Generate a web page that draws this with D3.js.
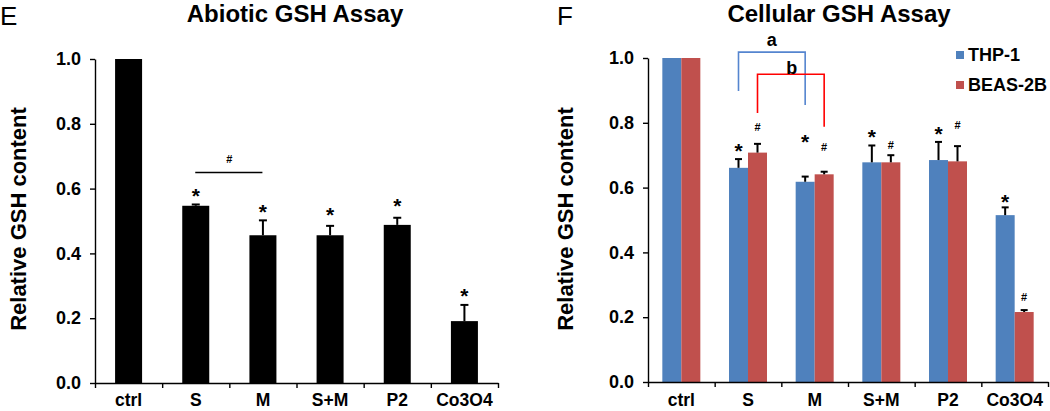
<!DOCTYPE html>
<html><head><meta charset="utf-8">
<script src="https://cdn.jsdelivr.net/npm/d3@7/dist/d3.min.js"></script>
<style>
body{margin:0;background:#fff;}
svg{display:block;font-family:"Liberation Sans",Arial,sans-serif;}
</style></head>
<body><svg id="c" width="1050" height="411"></svg>
<script>
const categories = ["ctrl","S","M","S+M","P2","Co3O4"];
const yTicks = [0,0.2,0.4,0.6,0.8,1.0];
// Panel E (abiotic)
const abioticMean = [1.0,0.547,0.456,0.456,0.488,0.191];
const abioticErr  = [0.0,0.004,0.046,0.029,0.022,0.050];
const abioticStar = [null,0.59,0.54,0.531,0.559,0.281];
// Panel F (cellular)
const seriesNames = ["THP-1","BEAS-2B"];
const thp1Mean  = [1.0,0.661,0.618,0.678,0.685,0.515];
const thp1Err   = [0.0,0.027,0.016,0.052,0.056,0.024];
const beasMean  = [1.0,0.708,0.641,0.678,0.681,0.216];
const beasErr   = [0.0,0.027,0.008,0.022,0.047,0.006];
const thp1Mark  = [null,0.725,0.753,0.768,0.778,0.568];
const beasMark  = [null,0.787,0.725,0.731,0.793,0.262];
const colors = ["#4F81BD","#C0504D"];

const svg = d3.select("#c");

function drawAxes(g, x, y, left, right, bottom, top){
  const ya = g.append("g").attr("transform",`translate(${left},0)`)
    .call(d3.axisLeft(y).tickValues(yTicks).tickFormat(d3.format(".1f")).tickSize(5).tickSizeOuter(0).tickPadding(9));
  ya.select(".domain").attr("stroke","#000").attr("stroke-width",1.4);
  ya.selectAll(".tick line").attr("stroke","#000").attr("stroke-width",1.4);
  ya.selectAll("text").attr("font-size",18).attr("font-weight","bold").attr("fill","#000");
  const xi = d3.scaleLinear().domain([0,categories.length]).range([left,right]);
  const xb = g.append("g").attr("transform",`translate(0,${bottom})`)
    .call(d3.axisBottom(xi).tickValues(d3.range(categories.length+1)).tickFormat("").tickSize(5).tickSizeOuter(0));
  xb.select(".domain").attr("stroke","#000").attr("stroke-width",1.4);
  xb.selectAll(".tick line").attr("stroke","#000").attr("stroke-width",1.4);
  const xl = g.append("g").attr("transform",`translate(0,${bottom})`)
    .call(d3.axisBottom(x).tickSize(0).tickPadding(0));
  xl.select(".domain").remove();
  xl.selectAll("text").attr("dy",null).attr("y",406-bottom).attr("font-size",17.5).attr("font-weight","bold").attr("fill","#000");
}

function errBar(g, cx, y, m, e, cap){
  if(e<=0) return;
  g.append("line").attr("x1",cx).attr("x2",cx).attr("y1",y(m)).attr("y2",y(m+e)).attr("stroke","#000").attr("stroke-width",2);
  g.append("line").attr("x1",cx-cap/2).attr("x2",cx+cap/2).attr("y1",y(m+e)).attr("y2",y(m+e)).attr("stroke","#000").attr("stroke-width",2);
}
function star(g,cx,yy){
  g.append("text").attr("x",cx).attr("y",yy+11).attr("text-anchor","middle").attr("font-size",21).attr("font-weight","bold").text("*");
}
function hash(g,cx,yy){
  g.append("text").attr("x",cx).attr("y",yy+4).attr("text-anchor","middle").attr("font-size",11).attr("font-weight","bold").text("#");
}

// ---------- Panel E ----------
{
  const L=95,R=498,B=383,T=59;
  const g = svg.append("g");
  const x = d3.scaleBand().domain(categories).range([L,R]).paddingInner(0).paddingOuter(0);
  const y = d3.scaleLinear().domain([0,1]).range([B,T]);
  const bw = 27;
  categories.forEach((c,i)=>{
    const cx = x(c)+x.bandwidth()/2;
    g.append("rect").attr("x",cx-bw/2).attr("width",bw).attr("y",y(abioticMean[i])).attr("height",y(0)-y(abioticMean[i])).attr("fill","#000");
    errBar(g,cx,y,abioticMean[i],abioticErr[i],8);
    if(abioticStar[i]!=null) star(g,cx,y(abioticStar[i]));
  });
  drawAxes(g,x,y,L,R,B,T);
  const sx = x("S")+x.bandwidth()/2, mx = x("M")+x.bandwidth()/2;
  g.append("line").attr("x1",sx-0.5).attr("x2",mx-0.5).attr("y1",y(0.65)).attr("y2",y(0.65)).attr("stroke","#000").attr("stroke-width",1.5);
  hash(g,(sx+mx)/2,y(0.69));
  g.append("text").attr("x",0).attr("y",25).attr("font-size",26).text("E");
  g.append("text").attr("x",295).attr("y",22).attr("text-anchor","middle").attr("font-size",24).attr("font-weight","bold").text("Abiotic GSH Assay");
  g.append("text").attr("transform",`translate(26,219) rotate(-90)`).attr("text-anchor","middle").attr("font-size",22).attr("font-weight","bold").text("Relative GSH content");
}

// ---------- Panel F ----------
{
  const L=648,R=1048,B=382,T=58;
  const g = svg.append("g");
  const x = d3.scaleBand().domain(categories).range([L,R]).paddingInner(0).paddingOuter(0);
  const y = d3.scaleLinear().domain([0,1]).range([B,T]);
  const x1 = d3.scaleBand().domain(seriesNames).range([0,38]);
  const means=[thp1Mean,beasMean], errs=[thp1Err,beasErr], marks=[thp1Mark,beasMark];
  categories.forEach((c,i)=>{
    const c0 = x(c)+x.bandwidth()/2-19;
    seriesNames.forEach((s,k)=>{
      g.append("rect").attr("x",c0+x1(s)).attr("width",x1.bandwidth()).attr("y",y(means[k][i])).attr("height",y(0)-y(means[k][i])).attr("fill",colors[k]);
    });
  });
  categories.forEach((c,i)=>{
    const c0 = x(c)+x.bandwidth()/2-19;
    seriesNames.forEach((s,k)=>{
      const cx=c0+x1(s)+x1.bandwidth()/2;
      errBar(g,cx,y,means[k][i],errs[k][i],7);
      if(marks[k][i]!=null){ if(k===0) star(g,cx,y(marks[k][i])); else hash(g,cx,y(marks[k][i])); }
    });
  });
  drawAxes(g,x,y,L,R,B,T);
  const cS = x("S")+x.bandwidth()/2-19, cM = x("M")+x.bandwidth()/2-19;
  const bS = cS+x1("THP-1")+x1.bandwidth()/2, bM = cM+x1("THP-1")+x1.bandwidth()/2;
  const rS = cS+x1("BEAS-2B")+x1.bandwidth()/2, rM = cM+x1("BEAS-2B")+x1.bandwidth()/2;
  g.append("path").attr("d",`M${bS},${y(0.898)}V${y(1.018)}H${bM}V${y(0.855)}`).attr("fill","none").attr("stroke","#5585cf").attr("stroke-width",1.6);
  g.append("path").attr("d",`M${rS},${y(0.83)}V${y(0.95)}H${rM}V${y(0.788)}`).attr("fill","none").attr("stroke","#ff0000").attr("stroke-width",1.6);
  g.append("text").attr("x",(bS+bM)/2).attr("y",46).attr("text-anchor","middle").attr("font-size",18).attr("font-weight","bold").text("a");
  g.append("text").attr("x",(rS+rM)/2+1).attr("y",74).attr("text-anchor","middle").attr("font-size",18).attr("font-weight","bold").text("b");
  const lg = g.append("g");
  seriesNames.forEach((s,k)=>{
    lg.append("rect").attr("x",956).attr("y",51+k*30).attr("width",8).attr("height",8).attr("fill",colors[k]);
    lg.append("text").attr("x",968).attr("y",61+k*30).attr("font-size",18).attr("font-weight","bold").text(s);
  });
  g.append("text").attr("x",557).attr("y",25).attr("font-size",26).text("F");
  g.append("text").attr("x",839).attr("y",22).attr("text-anchor","middle").attr("font-size",24).attr("font-weight","bold").text("Cellular GSH Assay");
  g.append("text").attr("transform",`translate(573,219) rotate(-90)`).attr("text-anchor","middle").attr("font-size",22).attr("font-weight","bold").text("Relative GSH content");
}
</script></body></html>
